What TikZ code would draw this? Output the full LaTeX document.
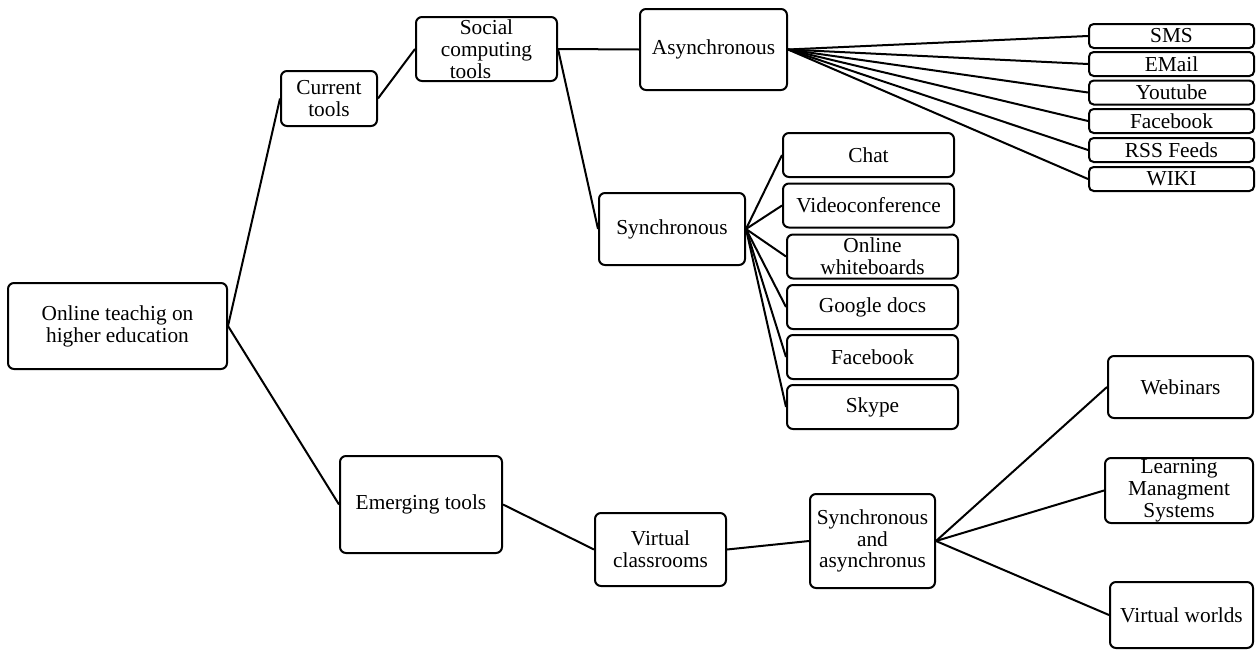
\documentclass[tikz,border=0pt]{standalone}
\usepackage{fontspec}
\setmainfont{Liberation Serif}
\begin{document}
\begin{tikzpicture}[x=0.75pt, y=-0.75pt,
  box/.style={draw, line width=1.5pt, rounded corners=4.5pt, inner sep=0pt,
    align=center, font=\fontsize{16pt}{16.4pt}\selectfont},
  leaf/.style={box, rounded corners=3.5pt, minimum width=123.75pt, minimum height=18pt},
  sleaf/.style={box, minimum width=128.25pt, minimum height=33pt},
  link/.style={line width=1.5pt}]
\useasboundingbox (0,0) rectangle (1256,650);

% root and first level
\node[box, minimum width=164.25pt, minimum height=64.5pt] (root) at (117.5,326) {Online teachig on\\higher education};
\node[box, minimum width=72pt, minimum height=41.25pt] (cur) at (329,98.5) {Current\\tools};
\node[box, minimum width=121.5pt, minimum height=72.75pt] (emg) at (421,504.5) {Emerging tools};

% current tools branch
\node[box, minimum width=105.75pt, minimum height=48pt] (soc) at (486.5,49) {Social\\computing\\tools\hspace*{24pt}};
\node[box, minimum width=110.25pt, minimum height=60.75pt] (asy) at (713.5,49.5) {Asynchronous};
\node[box, minimum width=109.5pt, minimum height=54pt] (syn) at (672,229) {Synchronous};

% asynchronous tools
\node[leaf] (sms) at (1171.5,36) {SMS};
\node[leaf] (mail) at (1171.5,64) {EMail};
\node[leaf] (yt) at (1171.5,92.5) {Youtube};
\node[leaf] (fba) at (1171.5,121) {Facebook};
\node[leaf] (rss) at (1171.5,150) {RSS Feeds};
\node[leaf] (wiki) at (1171.5,179) {WIKI};

% synchronous tools
\node[sleaf] (chat) at (868.5,155) {Chat};
\node[sleaf] (video) at (868.5,205.5) {Videoconference};
\node[sleaf] (wb) at (872.5,256.5) {Online\\whiteboards};
\node[sleaf] (gdocs) at (872.5,307) {Google docs};
\node[sleaf] (fbs) at (872.5,357) {Facebook};
\node[sleaf] (skype) at (872.5,407) {Skype};

% emerging tools branch
\node[box, minimum width=98.25pt, minimum height=54.75pt] (vc) at (660.5,549.5) {Virtual\\classrooms};
\node[box, minimum width=93.75pt, minimum height=70.5pt] (sa) at (872.5,541) {Synchronous\\and\\asynchronus};
\node[box, minimum width=108.75pt, minimum height=46.5pt] (web) at (1180.5,387) {Webinars};
\node[box, minimum width=111pt, minimum height=48.75pt] (lms) at (1179,490.5) {Learning\\Managment\\Systems};
\node[box, minimum width=107.25pt, minimum height=49.5pt] (vw) at (1181.5,615) {Virtual worlds};

% connectors
\draw[link] (root.east) -- (cur.west);
\draw[link] (root.east) -- (emg.west);
\draw[link] (cur.east) -- (soc.west);
\draw[link] (soc.east) -- (asy.west);
\draw[link] (soc.east) -- (syn.west);
\foreach \t in {sms,mail,yt,fba,rss,wiki}
  \draw[link] (asy.east) -- (\t.west);
\foreach \t in {chat,video,wb,gdocs,fbs,skype}
  \draw[link] (syn.east) -- (\t.west);
\draw[link] (emg.east) -- (vc.west);
\draw[link] (vc.east) -- (sa.west);
\foreach \t in {web,lms,vw}
  \draw[link] (sa.east) -- (\t.west);
\end{tikzpicture}
\end{document}
